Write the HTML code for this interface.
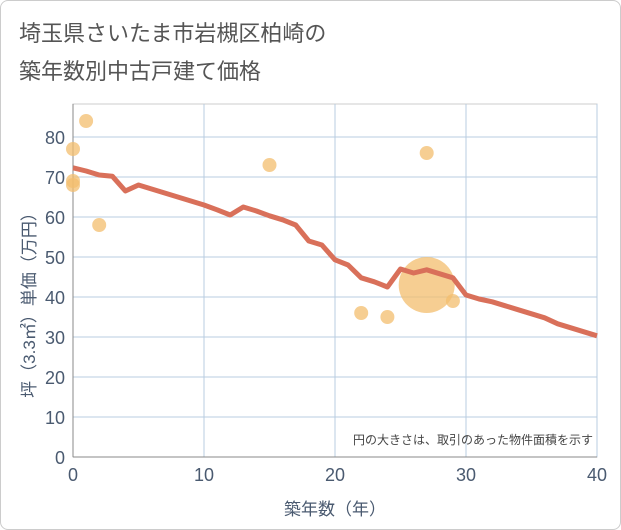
<!DOCTYPE html>
<html><head><meta charset="utf-8"><style>
body{margin:0;background:#fff;font-family:"Liberation Sans","Noto Sans CJK JP",sans-serif}
#wrap{position:relative;width:619px;height:528px;border:1px solid #ccc;border-radius:8px;overflow:hidden}
</style></head><body>
<div id="wrap">
<svg id="c" width="619" height="528"></svg>
</div>
<script>
const xTicks=[0,10,20,30,40];
const yTicks=[0,10,20,30,40,50,60,70,80];
const lineX=[0,1,2,3,4,5,6,7,8,9,10,11,12,13,14,15,16,17,18,19,20,21,22,23,24,25,26,27,28,29,30,31,32,33,34,35,36,37,38,39,40];
const lineY=[72.3,71.5,70.5,70.2,66.5,68,67,66,65,64,63,61.8,60.5,62.5,61.5,60.3,59.3,58,54,53,49.3,48,44.8,43.8,42.5,47,46,46.8,45.8,44.8,40.5,39.5,38.8,37.8,36.8,35.8,34.8,33.3,32.3,31.3,30.3];
const bubX=[0,0,0,1,2,15,22,24,27,27,29];
const bubY=[77,69,68,84,58,73,36,35,76,43,39];
const bubR=[7,7,7,7,7,7,7,7,7,28,7];
const NS="http://www.w3.org/2000/svg",svg=document.getElementById('c');
const L=72,R=596,T=103,B=456;
const sx=v=>L+(R-L)*v/40, sy=v=>B-v*4;
function mk(t,a,p){const e=document.createElementNS(NS,t);for(const k in a)e.setAttribute(k,a[k]);(p||svg).appendChild(e);return e;}
let t=mk('text',{x:18,y:40,'font-size':22,fill:'#555'});t.textContent='埼玉県さいたま市岩槻区柏崎の';

t=mk('text',{x:18,y:78,'font-size':22,fill:'#555'});t.textContent='築年数別中古戸建て価格';

mk('rect',{x:L,y:T,width:R-L,height:B-T,fill:'#fff',stroke:'#ccc'});
yTicks.forEach(v=>{const g=mk('line',{x1:L,x2:R,y1:sy(v),y2:sy(v),stroke:'#b8cce0'});
const tx=mk('text',{x:L-8,y:sy(v)+7,'font-size':18,fill:'#4a5a70','text-anchor':'end'});tx.textContent=v;});
xTicks.forEach(v=>{const g=mk('line',{x1:sx(v),x2:sx(v),y1:T,y2:B,stroke:'#b8cce0'});
const tx=mk('text',{x:sx(v),y:B+24,'font-size':18,fill:'#4a5a70','text-anchor':'middle'});tx.textContent=v;});
mk('line',{x1:L,x2:L,y1:T,y2:B,stroke:'#888'});mk('line',{x1:L,x2:R,y1:B,y2:B,stroke:'#888'});
bubX.forEach((x,i)=>{const c=mk('circle',{cx:sx(x),cy:sy(bubY[i]),r:bubR[i],fill:'rgba(243,190,110,0.75)'});});
const p=mk('polyline',{points:lineX.map((x,i)=>sx(x)+','+sy(lineY[i])).join(' '),fill:'none',stroke:'#d9705a','stroke-width':5,'stroke-linejoin':'round'});

t=mk('text',{x:592,y:443,'font-size':12,fill:'#444','text-anchor':'end'});t.textContent='円の大きさは、取引のあった物件面積を示す';

t=mk('text',{x:334,y:514,'font-size':17,fill:'#4a5a70','text-anchor':'middle'});t.textContent='築年数（年）';

t=mk('text',{x:0,y:0,'font-size':17,fill:'#4a5a70','text-anchor':'middle',transform:'translate(34,300) rotate(-90)'});t.textContent='坪（3.3㎡）単価（万円）';

</script>
</body></html>
